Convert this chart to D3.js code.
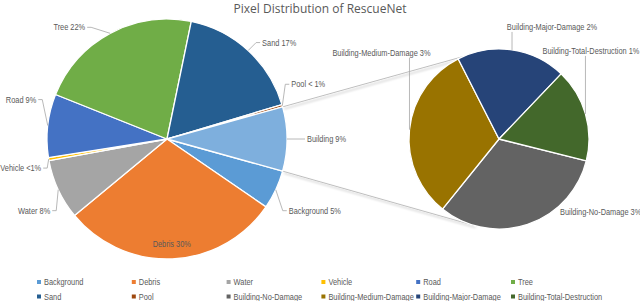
<!DOCTYPE html>
<html>
<head>
<meta charset="utf-8">
<script src="https://cdn.jsdelivr.net/npm/d3@7"></script>
<style>
  body { margin: 0; background: #fff; }
  svg { display: block; font-family: "Liberation Sans", Arial, sans-serif; }
</style>
</head>
<body>
<svg id="chart"></svg>
<script>
// main pie (last one is the split-off "Building" group)
const mainNames = ["Background", "Debris", "Water", "Vehicle", "Road", "Tree", "Sand", "Pool"];
const mainValues = [5.3, 29.7, 8.2, 0.4, 8.6, 22.4, 17.3, 0.3];
const mainLabels = ["5%", "30%", "8%", "<1%", "9%", "22%", "17%", "< 1%"];

// secondary pie
const subNames = ["Building-No-Damage", "Building-Medium-Damage", "Building-Major-Damage", "Building-Total-Destruction"];
const subValues = [2.78, 2.76, 1.71, 1.46];
const subLabels = ["3%", "3%", "2%", "1%"];
const otherName = "Building";
const otherLabel = "9%";

const legendNames = mainNames.concat(subNames);

const colors = {
  "Background": "#5B9BD5", "Debris": "#ED7D31", "Water": "#A5A5A5", "Vehicle": "#FFC000",
  "Road": "#4472C4", "Tree": "#70AD47", "Sand": "#255E91", "Pool": "#9E480E",
  "Building": "#7EAFDD",
  "Building-No-Damage": "#636363", "Building-Medium-Damage": "#997300",
  "Building-Major-Damage": "#264478", "Building-Total-Destruction": "#43682B"
};

// label placement relative to the slice's edge point
const labelLayout = {
  "Background": { dx: 13, dy: 21, anchor: "start", leader: "elbow" },
  "Debris": { inside: 0.875 },
  "Water": { dx: -8, dy: 21, anchor: "end", leader: "elbow" },
  "Vehicle": { dx: -7.5, dy: 9, anchor: "end", leader: "elbow" },
  "Road": { dx: -11.5, dy: -26, anchor: "end", leader: "elbow" },
  "Tree": { dx: -25, dy: -6, anchor: "end", leader: "elbow" },
  "Sand": { dx: 14, dy: -8, anchor: "start", leader: "elbow" },
  "Pool": { dx: 9, dy: -21.5, anchor: "start", leader: "elbow" },
  "Building": { dx: 20, dy: 0, anchor: "start", leader: "elbow" },
  "Building-No-Damage": { dx: 73, dy: -12, anchor: "middle", leader: "none" },
  "Building-Medium-Damage": { dx: -28, dy: -77, anchor: "middle", leader: "vertical" },
  "Building-Major-Damage": { dx: 40, dy: -23, anchor: "middle", leader: "vertical" },
  "Building-Total-Destruction": { dx: 5.5, dy: -63, anchor: "middle", leader: "vertical" }
};

const width = 640, height = 301;
const textColor = "#595959";
const fontSize = 8.7, squeeze = 0.85;   // narrow sans look
const mainC = { x: 167, y: 139, r: 120 };
const subC = { x: 499, y: 139, r: 90 };

const svg = d3.select("#chart").attr("width", width).attr("height", height);

const defs = svg.append("defs");
defs.append("filter").attr("id", "shadow").attr("x", "-10%").attr("y", "-50%").attr("width", "120%").attr("height", "200%")
  .append("feDropShadow").attr("dx", 1.5).attr("dy", 2).attr("stdDeviation", 1.2)
  .attr("flood-color", "#000").attr("flood-opacity", 0.25);

// small condensed text helper
function label(g, x, y, str, anchor) {
  return g.append("text")
    .attr("transform", `translate(${x},${y}) scale(${squeeze},1)`)
    .attr("dy", "0.35em")
    .attr("text-anchor", anchor)
    .text(str);
}

// title
svg.append("text")
  .attr("x", 320).attr("y", 13)
  .attr("text-anchor", "middle")
  .attr("font-family", "Open Sans, sans-serif")
  .attr("font-size", 12)
  .attr("fill", textColor)
  .text("Pixel Distribution of RescueNet");

const otherValue = d3.sum(subValues);
const total = d3.sum(mainValues) + otherValue;
const otherAngle = otherValue / total * 2 * Math.PI;

// main pie data: Background starts just after the Building slice, which is centred at 3 o'clock
const mainData = mainNames.map((n, i) => ({ name: n, value: mainValues[i], label: n + " " + mainLabels[i] }))
  .concat([{ name: otherName, value: otherValue, label: otherName + " " + otherLabel }]);

const mainPie = d3.pie().sort(null).value(d => d.value)
  .startAngle(Math.PI / 2 + otherAngle / 2)
  .endAngle(Math.PI / 2 + otherAngle / 2 + 2 * Math.PI);
const mainArcs = mainPie(mainData);

const subData = subNames.map((n, i) => ({ name: n, value: subValues[i], label: n + " " + subLabels[i] }));
const subStart = 104 * Math.PI / 180;
const subPie = d3.pie().sort(null).value(d => d.value).startAngle(subStart).endAngle(subStart + 2 * Math.PI);
const subArcs = subPie(subData);

function edgePoint(c, a, r) {
  return [c.x + r * Math.sin(a), c.y - r * Math.cos(a)];
}

// series lines between the pies
const otherArc = mainArcs[mainArcs.length - 1];
const seriesLines = [
  [edgePoint(mainC, otherArc.startAngle, mainC.r), edgePoint(subC, -24 * Math.PI / 180, subC.r)],
  [edgePoint(mainC, otherArc.endAngle, mainC.r), edgePoint(subC, 196 * Math.PI / 180, subC.r)]
];
svg.append("g").selectAll("line").data(seriesLines).join("line")
  .attr("x1", d => d[0][0]).attr("y1", d => d[0][1])
  .attr("x2", d => d[1][0]).attr("y2", d => d[1][1])
  .attr("stroke", "#BFBFBF").attr("stroke-width", 1)
  .attr("filter", "url(#shadow)");

function drawPie(arcs, c) {
  const arc = d3.arc().innerRadius(0).outerRadius(c.r);
  const g = svg.append("g").attr("transform", `translate(${c.x},${c.y})`);
  g.selectAll("path").data(arcs).join("path")
    .attr("d", arc)
    .attr("fill", d => colors[d.data.name])
    .attr("stroke", "#fff")
    .attr("stroke-width", 1.3)
    .attr("stroke-linejoin", "round");
}

function drawLabels(arcs, c) {
  const g = svg.append("g").attr("font-size", fontSize).attr("fill", textColor);
  arcs.forEach(d => {
    const L = labelLayout[d.data.name];
    const mid = (d.startAngle + d.endAngle) / 2;
    if (L.inside) {
      const p = edgePoint(c, mid, c.r * L.inside);
      label(g, p[0], p[1], d.data.label, "middle");
      return;
    }
    const e = edgePoint(c, mid, c.r);
    const tx = e[0] + L.dx, ty = e[1] + L.dy;
    label(g, tx, ty, d.data.label, L.anchor);
    let pts = null;
    if (L.leader === "elbow") {
      const s = L.anchor === "start" ? 1 : -1;
      pts = [e, [tx - s * 6, ty], [tx - s * 2, ty]];
    } else if (L.leader === "vertical") {
      pts = [e, [e[0], ty + 5]];
    }
    if (pts) {
      g.append("path").attr("d", d3.line()(pts))
        .attr("fill", "none").attr("stroke", "#A6A6A6").attr("stroke-width", 0.8);
    }
  });
}

drawPie(mainArcs, mainC);
drawPie(subArcs, subC);
drawLabels(mainArcs, mainC);
drawLabels(subArcs, subC);

// legend
const legX = d3.scalePoint().domain(d3.range(6)).range([39, 513]);
const legend = svg.append("g").attr("font-size", fontSize).attr("fill", textColor);
const items = legend.selectAll("g").data(legendNames).join("g")
  .attr("transform", (d, i) => `translate(${legX(i % 6)},${282 + Math.floor(i / 6) * 14.5})`);
items.append("rect").attr("x", -2).attr("y", -2).attr("width", 4).attr("height", 4)
  .attr("fill", d => colors[d]);
items.each(function (d) { label(d3.select(this), 5, 0, d, "start"); });
</script>
</body>
</html>
